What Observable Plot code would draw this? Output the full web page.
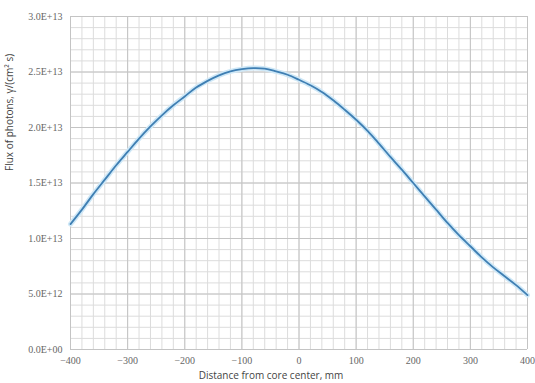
<!DOCTYPE html>
<html>
<head>
<meta charset="utf-8">
<script src="https://cdn.jsdelivr.net/npm/d3@7"></script>
<script src="https://cdn.jsdelivr.net/npm/@observablehq/plot@0.6"></script>
<style>
  html, body { margin: 0; padding: 0; background: #fff; }
  #chart { width: 535px; height: 383px; }
  #chart g[aria-label$="tick label"] text { font-family: "Liberation Serif", "Times New Roman", serif; }
</style>
</head>
<body>
<div id="chart"></div>
<script>
// Distance from core center, mm
const distance = [-400,-380,-360,-340,-320,-300,-280,-260,-240,-220,-200,-180,-160,-140,-120,-100,-80,-60,-40,-20,0,20,40,60,80,100,120,140,160,180,200,220,240,260,280,300,320,340,360,380,400];
// Flux of photons, units of 1e12 γ/(cm² s)
const fluxE12 = [11.3,12.6,14.0,15.3,16.6,17.8,19.0,20.1,21.1,22.0,22.8,23.6,24.2,24.7,25.05,25.25,25.35,25.3,25.05,24.75,24.3,23.8,23.2,22.45,21.6,20.7,19.7,18.55,17.35,16.2,15.0,13.8,12.6,11.4,10.3,9.3,8.3,7.4,6.6,5.8,4.9];
const xTicks = [-400,-300,-200,-100,0,100,200,300,400];
const yTicks = [0,5e12,1e13,1.5e13,2e13,2.5e13,3e13];
const yTickLabels = ["0.0E+00","5.0E+12","1.0E+13","1.5E+13","2.0E+13","2.5E+13","3.0E+13"];
const xTitle = "Distance from core center, mm";
const yTitle = "Flux of photons, γ/(cm² s)";

const data = distance.map((d, i) => ({x: d, y: fluxE12[i] * 1e12}));
const xMinor = d3.range(-400, 401, 20);
const yMinor = d3.range(0, 3.01e13, 1e12);
const serif = "Liberation Serif";
const sans = "Open Sans";

const chart = Plot.plot({
  width: 535,
  height: 383,
  marginLeft: 70,
  marginRight: 8,
  marginTop: 16,
  marginBottom: 34,
  style: {background: "#fff", fontFamily: serif, fontSize: "10px", color: "#666"},
  x: {domain: [-400, 400], label: null},
  y: {domain: [0, 3e13], label: null},
  marks: [
    Plot.ruleX(xMinor, {stroke: "#dcdcdc", strokeWidth: 1}),
    Plot.ruleY(yMinor, {stroke: "#dcdcdc", strokeWidth: 1}),
    Plot.ruleX(xTicks, {stroke: "#c4c4c4", strokeWidth: 1}),
    Plot.ruleY(yTicks, {stroke: "#c4c4c4", strokeWidth: 1}),
    Plot.line(data, {x: "x", y: "y", stroke: "#cfe8f7", strokeWidth: 5, curve: "catmull-rom"}),
    Plot.line(data, {x: "x", y: "y", stroke: "#3f7fb3", strokeWidth: 1.8, curve: "catmull-rom"}),
    Plot.axisX({ticks: xTicks, tickSize: 0, tickPadding: 7, fill: "#666", fontSize: 10, fontFamily: serif}),
    Plot.axisY({ticks: yTicks, tickSize: 0, tickPadding: 8, fill: "#666", fontSize: 10, fontFamily: serif,
      tickFormat: v => yTickLabels[yTicks.indexOf(v)]}),
    Plot.text([xTitle], {frameAnchor: "bottom", dx: -28, dy: 29, text: d => d,
      fontFamily: sans, fontSize: 10, fill: "#444"}),
    Plot.text([yTitle], {frameAnchor: "left", dx: -61, dy: -12, rotate: -90, text: d => d,
      fontFamily: sans, fontSize: 10, fill: "#444"})
  ]
});
document.getElementById("chart").appendChild(chart);
</script>
</body>
</html>
